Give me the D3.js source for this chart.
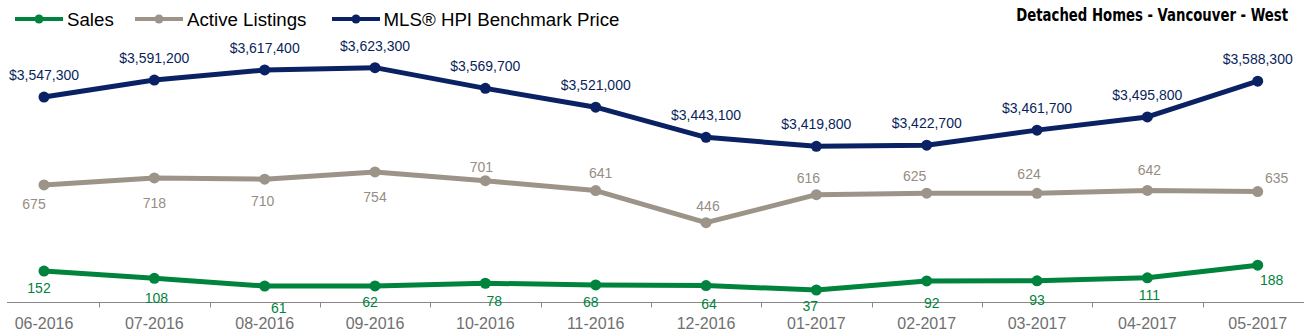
<!DOCTYPE html>
<html>
<head>
<meta charset="utf-8">
<script src="https://cdn.jsdelivr.net/npm/d3@7"></script>
<style>
  html, body { margin: 0; padding: 0; background: #fff; }
  svg { display: block; }
</style>
</head>
<body>
<svg id="chart" width="1306" height="333"></svg>
<script>
// ---- data ----
const months = ["06-2016","07-2016","08-2016","09-2016","10-2016","11-2016","12-2016","01-2017","02-2017","03-2017","04-2017","05-2017"];
const sales = [152,108,61,62,78,68,64,37,92,93,111,188];
const activeListings = [675,718,710,754,701,641,446,616,625,624,642,635];
const hpiPrice = [3547300,3591200,3617400,3623300,3569700,3521000,3443100,3419800,3422700,3461700,3495800,3588300];
const seriesNames = ["Sales","Active Listings","MLS\u00AE HPI Benchmark Price"];
const chartTitle = "Detached Homes - Vancouver - West";

// ---- label placement (layout only) ----
const salesLabelOffset = [[-5,17],[2,20],[14,22],[-5,16],[9,18],[-5,17],[3,19],[-6,16],[5,22],[0,19],[2,17],[14,15]];
const listingLabelOffset = [[-10,19],[0,25],[-2,22],[0,25],[-4,-14],[5,-17],[2,-17],[-8,-17],[-12,-17],[-8,-19],[2,-20],[19,-13]];

const colors = { sales: "#00843D", listings: "#9C9489", hpi: "#0A2264" };
const labelColors = { sales: "#00843D", listings: "#968D83", hpi: "#0A1F5C" };

const svg = d3.select("#chart");
const font = "'Liberation Sans', Arial, Helvetica, sans-serif";

const x = d3.scalePoint().domain(months).range([44, 1257.7]);
const yCount = d3.scaleLinear().domain([0, 800]).range([296.1, 164.4]);
const yPrice = d3.scaleLinear().domain([3400000, 3650000]).range([154.0, 57.3]);

// ---- x axis ----
const axisY = 302.5;
const step = x.step();
const g = svg.append("g");
g.append("line").attr("x1", 7).attr("x2", 1304).attr("y1", axisY).attr("y2", axisY)
  .attr("stroke", "#8a8a8a").attr("stroke-width", 1);
months.slice(0, -1).forEach((m) => {
  const tx = Math.round(x(m) + step / 2) + 0.5;
  g.append("line").attr("x1", tx).attr("x2", tx).attr("y1", axisY).attr("y2", axisY + 5)
    .attr("stroke", "#8a8a8a").attr("stroke-width", 1);
});
g.selectAll("text.xl").data(months).join("text")
  .attr("class", "xl")
  .attr("x", d => x(d)).attr("y", 329)
  .attr("text-anchor", "middle")
  .attr("font-family", font).attr("font-size", 16)
  .attr("fill", "#707070")
  .text(d => d);

// ---- series ----
function drawSeries(values, yScale, color, width, r) {
  const line = d3.line().x((d, i) => x(months[i])).y(d => yScale(d));
  svg.append("path").datum(values).attr("d", line)
    .attr("fill", "none").attr("stroke", color).attr("stroke-width", width)
    .attr("stroke-linejoin", "round").attr("stroke-linecap", "round");
  svg.append("g").selectAll("circle").data(values).join("circle")
    .attr("cx", (d, i) => x(months[i])).attr("cy", d => yScale(d))
    .attr("r", r).attr("fill", color);
}
drawSeries(activeListings, yCount, colors.listings, 5, 5.5);
drawSeries(sales, yCount, colors.sales, 5, 5.5);
drawSeries(hpiPrice, yPrice, colors.hpi, 5, 5.5);

// ---- value labels ----
const fmtPrice = v => "$" + d3.format(",")(v);
svg.append("g").selectAll("text").data(hpiPrice).join("text")
  .attr("x", (d, i) => x(months[i])).attr("y", d => yPrice(d) - 22)
  .attr("dy", "0.35em").attr("text-anchor", "middle")
  .attr("font-family", font).attr("font-size", 14).attr("fill", labelColors.hpi)
  .text(fmtPrice);
svg.append("g").selectAll("text").data(activeListings).join("text")
  .attr("x", (d, i) => x(months[i]) + listingLabelOffset[i][0])
  .attr("y", (d, i) => yCount(d) + listingLabelOffset[i][1])
  .attr("dy", "0.35em").attr("text-anchor", "middle")
  .attr("font-family", font).attr("font-size", 14).attr("fill", labelColors.listings)
  .text(d => d);
svg.append("g").selectAll("text").data(sales).join("text")
  .attr("x", (d, i) => x(months[i]) + salesLabelOffset[i][0])
  .attr("y", (d, i) => yCount(d) + salesLabelOffset[i][1])
  .attr("dy", "0.35em").attr("text-anchor", "middle")
  .attr("font-family", font).attr("font-size", 14).attr("fill", labelColors.sales)
  .text(d => d);

// ---- legend ----
const legendItems = [
  { name: seriesNames[0], color: colors.sales, x0: 15, tx: 67 },
  { name: seriesNames[1], color: colors.listings, x0: 135, tx: 187 },
  { name: seriesNames[2], color: colors.hpi, x0: 332, tx: 383.5 }
];
const lg = svg.append("g");
legendItems.forEach(it => {
  lg.append("line").attr("x1", it.x0).attr("x2", it.x0 + 48).attr("y1", 19).attr("y2", 19)
    .attr("stroke", it.color).attr("stroke-width", 4);
  lg.append("circle").attr("cx", it.x0 + 24).attr("cy", 19).attr("r", 4.5).attr("fill", it.color);
  lg.append("text").attr("x", it.tx).attr("y", 26)
    .attr("font-family", font).attr("font-size", 18.7).attr("fill", "#000")
    .text(it.name);
});

// ---- title (condensed by horizontal scaling to fit its width) ----
const titleG = svg.append("g");
const titleText = titleG.append("text").attr("x", 0).attr("y", 0)
  .attr("text-anchor", "end")
  .attr("font-family", "'Liberation Sans Narrow', 'DejaVu Sans Condensed', Arial, sans-serif")
  .attr("font-weight", "bold").attr("font-size", 18)
  .attr("fill", "#000")
  .text(chartTitle);
const naturalW = titleText.node().getComputedTextLength() || 272;
titleG.attr("transform", `translate(1288,21) scale(${272 / naturalW},1)`);
</script>
</body>
</html>
